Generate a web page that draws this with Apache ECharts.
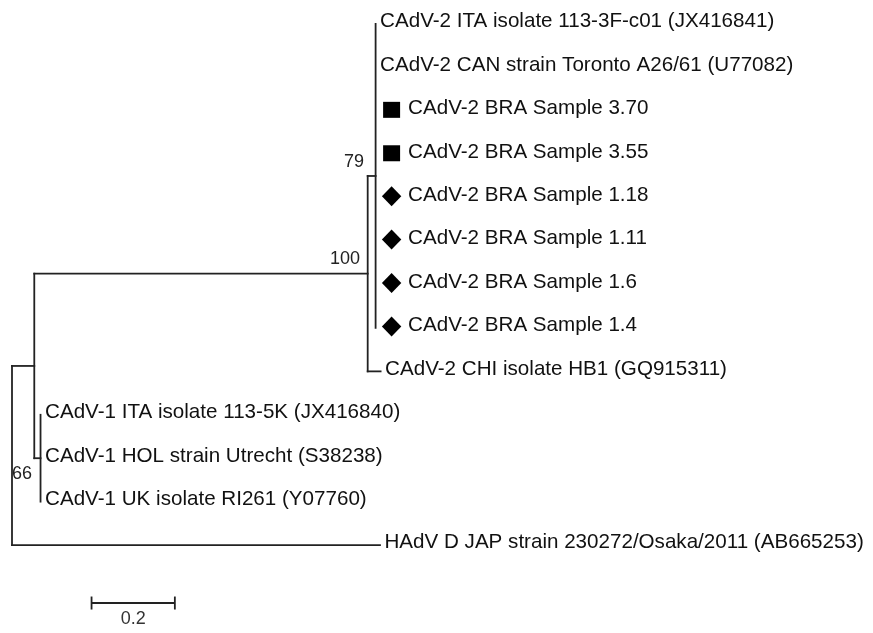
<!DOCTYPE html>
<html>
<head>
<meta charset="utf-8">
<script src="https://cdn.jsdelivr.net/npm/echarts@6/dist/echarts.min.js"></script>
<style>
html,body{margin:0;padding:0;background:#fff;}
#main{width:873px;height:633px;}
</style>
</head>
<body>
<div id="main"></div>
<script>
// ---- Tree data ----
// Internal nodes: index, parent (earlier index), branch length (substitutions/site)
const internalNames = ['root', 'CAdV', 'CAdV-2', 'CAdV-2 core', 'CAdV-1'];
const internalParent = [-1, 0, 1, 2, 1];
const internalBranch = [0, 0.0535, 0.8005, 0.019, 0.015];

// Leaves, in display order (top to bottom)
const leafNames = [
  'CAdV-2 ITA isolate 113-3F-c01 (JX416841)',
  'CAdV-2 CAN strain Toronto A26/61 (U77082)',
  'CAdV-2 BRA Sample 3.70',
  'CAdV-2 BRA Sample 3.55',
  'CAdV-2 BRA Sample 1.18',
  'CAdV-2 BRA Sample 1.11',
  'CAdV-2 BRA Sample 1.6',
  'CAdV-2 BRA Sample 1.4',
  'CAdV-2 CHI isolate HB1 (GQ915311)',
  'CAdV-1 ITA isolate 113-5K (JX416840)',
  'CAdV-1 HOL strain Utrecht (S38238)',
  'CAdV-1 UK isolate RI261 (Y07760)',
  'HAdV D JAP strain 230272/Osaka/2011 (AB665253)'
];
const leafMarker = ['', '', 'square', 'square', 'diamond', 'diamond', 'diamond', 'diamond', '', '', '', '', ''];
const leafParent = [3, 3, 3, 3, 3, 3, 3, 3, 2, 4, 4, 4, 0];
const leafBranch = [0, 0, 0, 0, 0, 0, 0, 0, 0.031, 0, 0, 0, 0.8835];

// Bootstrap support values
const bootstrapNode = [2, 3, 4];
const bootstrapValue = [100, 79, 66];

// Scale bar
const scaleBarLength = 0.2;
const scaleBarLabel = '0.2';
const scaleBarStart = 0.191;
const scaleBarRow = 13.335;

// ---- Layout computation (in data units) ----
const nInt = internalNames.length;
const intX = new Array(nInt).fill(0);
for (let i = 0; i < nInt; i++) {
  intX[i] = internalParent[i] < 0 ? 0 : intX[internalParent[i]] + internalBranch[i];
}
const leafX = leafNames.map((_, i) => intX[leafParent[i]] + leafBranch[i]);
const leafY = leafNames.map((_, i) => i);
const intY = new Array(nInt).fill(0);
const intMin = new Array(nInt).fill(Infinity);
const intMax = new Array(nInt).fill(-Infinity);
for (let i = nInt - 1; i >= 0; i--) {
  leafParent.forEach((p, j) => { if (p === i) { intMin[i] = Math.min(intMin[i], leafY[j]); intMax[i] = Math.max(intMax[i], leafY[j]); } });
  internalParent.forEach((p, j) => { if (p === i) { intMin[i] = Math.min(intMin[i], intY[j]); intMax[i] = Math.max(intMax[i], intY[j]); } });
  intY[i] = (intMin[i] + intMax[i]) / 2;
}

const segments = [];
for (let i = 0; i < nInt; i++) {
  segments.push([intX[i], intMin[i], intX[i], intMax[i]]);
  if (internalParent[i] >= 0) segments.push([intX[internalParent[i]], intY[i], intX[i], intY[i]]);
}
leafNames.forEach((_, i) => {
  if (leafBranch[i] > 0) segments.push([intX[leafParent[i]], leafY[i], leafX[i], leafY[i]]);
});

const leafData = leafNames.map((n, i) => [leafX[i], leafY[i], n, leafMarker[i]]);
const bootData = bootstrapNode.map((n, i) => [intX[n], intY[n], String(bootstrapValue[i]), i]);
const bootOffset = [[-7.7, -14.5], [-11.6, -14.0], [-8.4, 16.3]];

const LINE = '#222';
const FONT = '"Liberation Sans", Arial, sans-serif';

const chart = echarts.init(document.getElementById('main'), null, { renderer: 'canvas' });
chart.setOption({
  animation: false,
  backgroundColor: '#fff',
  grid: { left: 12, top: 24, width: 416.5, height: 607.9 },
  xAxis: { type: 'value', min: 0, max: 1, show: false },
  yAxis: { type: 'value', min: 0, max: 14, inverse: true, show: false },
  series: [
    {
      type: 'custom', clip: false, silent: true,
      data: segments,
      renderItem: function (params, api) {
        const a = api.coord([api.value(0), api.value(1)]);
        const b = api.coord([api.value(2), api.value(3)]);
        return { type: 'line', shape: { x1: a[0], y1: a[1], x2: b[0], y2: b[1] },
                 style: { stroke: LINE, lineWidth: 1.8, lineCap: 'square' } };
      }
    },
    {
      type: 'custom', clip: false, silent: true,
      data: leafData,
      renderItem: function (params, api) {
        const d = leafData[params.dataIndex];
        const p = api.coord([d[0], d[1]]);
        const children = [];
        let tx = p[0] + 4.5;
        if (d[3] === 'square') {
          children.push({ type: 'rect', shape: { x: p[0] + 7.5, y: p[1] - 9, width: 17, height: 16 }, style: { fill: '#000' } });
          tx = p[0] + 32.5;
        } else if (d[3] === 'diamond') {
          const cx = p[0] + 16, cy = p[1] - 1.5;
          children.push({ type: 'polygon', shape: { points: [[cx, cy - 10], [cx + 9.7, cy], [cx, cy + 10], [cx - 9.7, cy]] }, style: { fill: '#000' } });
          tx = p[0] + 32.5;
        }
        children.push({ type: 'text', x: tx, y: p[1] - 2.4,
          style: { text: d[2], fill: '#111', font: '20.6px ' + FONT, align: 'left', verticalAlign: 'middle' } });
        return { type: 'group', children: children };
      }
    },
    {
      type: 'custom', clip: false, silent: true,
      data: bootData,
      renderItem: function (params, api) {
        const d = bootData[params.dataIndex];
        const p = api.coord([d[0], d[1]]);
        const off = bootOffset[d[3]];
        return { type: 'text', x: p[0] + off[0], y: p[1] + off[1],
          style: { text: d[2], fill: '#222', font: '18px ' + FONT, align: 'right', verticalAlign: 'middle' } };
      }
    },
    {
      type: 'custom', clip: false, silent: true,
      data: [[scaleBarStart, scaleBarRow, scaleBarStart + scaleBarLength, scaleBarLabel]],
      renderItem: function (params, api) {
        const a = api.coord([api.value(0), api.value(1)]);
        const b = api.coord([api.value(2), api.value(1)]);
        const st = { stroke: LINE, lineWidth: 1.8 };
        return { type: 'group', children: [
          { type: 'line', shape: { x1: a[0], y1: a[1], x2: b[0], y2: b[1] }, style: st },
          { type: 'line', shape: { x1: a[0], y1: a[1] - 6.5, x2: a[0], y2: a[1] + 6.5 }, style: st },
          { type: 'line', shape: { x1: b[0], y1: b[1] - 6.5, x2: b[0], y2: b[1] + 6.5 }, style: st },
          { type: 'text', x: (a[0] + b[0]) / 2, y: a[1] + 15.7,
            style: { text: scaleBarLabel, fill: '#333', font: '18px ' + FONT, align: 'center', verticalAlign: 'middle' } }
        ] };
      }
    }
  ]
});
</script>
</body>
</html>
